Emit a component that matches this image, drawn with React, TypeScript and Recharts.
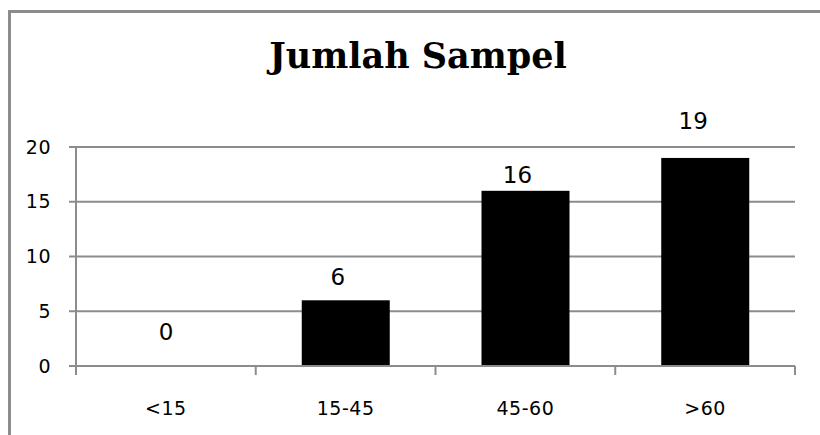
import React from 'react';
import { BarChart, Bar, XAxis, YAxis, CartesianGrid } from 'recharts';

const categories = ['<15', '15-45', '45-60', '>60'];
const counts = [0, 6, 16, 19];
const yTicks = [0, 5, 10, 15, 20];

// hand-placed label nudges (dx, lift above bar top)
const LABEL_DX = [0, -8, -8, -12];
const LABEL_LIFT = [34, 23, 16, 37];

const GRAY = '#8c8c8c';

const data = categories.map((name, i) => ({ name, jumlah: counts[i] }));

const XTick = (props: any) => {
    const { x, y, payload, index } = props;
    const half = payload.offset || 0;
    const last = index === categories.length - 1;
    return (
        <g>
            <line x1={x - half} x2={x - half} y1={y} y2={y + 9} stroke={GRAY} strokeWidth={2} />
            {last && <line x1={x + half} x2={x + half} y1={y} y2={y + 9} stroke={GRAY} strokeWidth={2} />}
            <text x={x} y={y + 42} textAnchor="middle" dominantBaseline="central"
                fontFamily="DejaVu Sans" fontSize={19} letterSpacing={0.5} fill="#000">
                {payload.value}
            </text>
        </g>
    );
};

// bar plus its value label, so the empty first bar still gets its "0"
const BarWithLabel = (props: any) => {
    const { x, y, width, height, payload } = props;
    const i = categories.indexOf(payload.name);
    return (
        <g>
            {height > 0 && <rect x={x} y={y} width={width} height={height} fill="#000" />}
            <text x={x + width / 2 + LABEL_DX[i]} y={y - LABEL_LIFT[i]} textAnchor="middle"
                dominantBaseline="central" fontFamily="DejaVu Sans" fontSize={23} fill="#000">
                {payload.jumlah}
            </text>
        </g>
    );
};

export default function App() {
    return (
        <div style={{ position: 'absolute', left: 0, top: 0, width: 820, height: 435, background: '#fff', overflow: 'hidden' }}>
            {/* outer chart frame, cut off on the right and bottom */}
            <div style={{ position: 'absolute', left: 8, top: 10, width: 840, height: 460, border: `3px solid ${GRAY}` }} />
            <div style={{
                position: 'absolute', left: 0, width: 836, top: 36, textAlign: 'center',
                fontFamily: 'DejaVu Serif', fontWeight: 'bold', fontSize: 35, color: '#000', lineHeight: '40px',
            }}>
                Jumlah Sampel
            </div>
            <div style={{ position: 'absolute', left: 0, top: 0 }}>
                <BarChart width={820} height={435} data={data} barSize={88}
                    margin={{ top: 147, right: 25, left: 36, bottom: 29 }}>
                    <CartesianGrid vertical={false} stroke={GRAY} strokeWidth={2} />
                    <XAxis dataKey="name" height={40} tickSize={0} tickMargin={0} tickLine={false}
                        axisLine={{ stroke: GRAY, strokeWidth: 2 }} tick={<XTick />} interval={0} />
                    <YAxis width={40} domain={[0, 20]} ticks={yTicks} interval={0}
                        tickSize={7} tickMargin={18}
                        axisLine={{ stroke: GRAY, strokeWidth: 2 }} tickLine={{ stroke: GRAY, strokeWidth: 2 }}
                        tick={{ fontFamily: 'DejaVu Sans', fontSize: 19, letterSpacing: 0.5, fill: '#000' }} />
                    <Bar dataKey="jumlah" fill="#000" isAnimationActive={false} shape={<BarWithLabel />} />
                </BarChart>
            </div>
        </div>
    );
}
